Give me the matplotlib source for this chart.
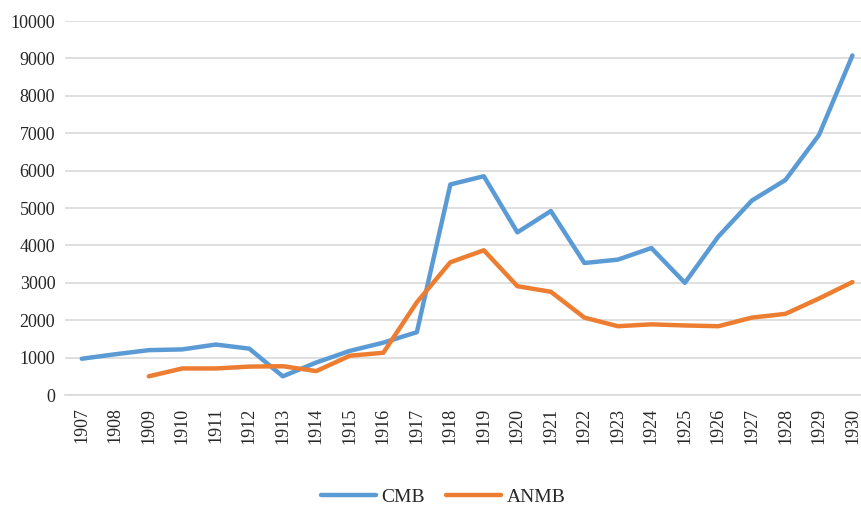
import numpy as np
import matplotlib.pyplot as plt

anos = [str(a) for a in range(1907, 1931)]
cmb = [970, 1090, 1200, 1220, 1350, 1240, 500, 870, 1180, 1400, 1680, 5630,
       5850, 4350, 4920, 3530, 3620, 3930, 3000, 4240, 5200, 5750, 6950, 9080]
# ANMB começa em 1909
anmb = [np.nan, np.nan, 500, 710, 710, 760, 770, 640, 1050, 1130, 2480, 3550,
        3870, 2910, 2760, 2070, 1840, 1890, 1860, 1840, 2070, 2170, 2580, 3020]

plt.rcParams['font.family'] = ['Liberation Serif', 'DejaVu Serif']

fig = plt.figure(figsize=(8.61, 5.08), dpi=100)
ax = fig.add_axes([0.0755, 0.2224, 0.934, 0.7362])

x = np.arange(len(anos))
ax.plot(x, cmb, color='#5B9BD5', lw=3.2, label='CMB', solid_capstyle='round', solid_joinstyle='round')
ax.plot(x, anmb, color='#ED7D31', lw=3.2, label='ANMB', solid_capstyle='round', solid_joinstyle='round')

ax.set_xlim(-0.5, len(anos) - 0.5)
ax.set_ylim(0, 10000)
ax.set_yticks(np.arange(0, 10001, 1000))
ax.set_xticks(x)
ax.set_xticklabels(anos, rotation=90)
ax.tick_params(axis='both', length=0, labelsize=13, colors='#262626')
ax.tick_params(axis='x', pad=9)
ax.tick_params(axis='y', pad=7)
ax.grid(axis='y', color='#D9D9D9', lw=1.2)
ax.set_axisbelow(True)
for s in ['top', 'right', 'left']:
    ax.spines[s].set_visible(False)
ax.spines['bottom'].set_color('#D9D9D9')
ax.spines['bottom'].set_linewidth(1.2)

leg = fig.legend(loc='center', bbox_to_anchor=(0.515, 0.022), ncol=2, frameon=False,
                 fontsize=14, handlelength=2.8, columnspacing=1.1, handletextpad=0.3)
for t in leg.get_texts():
    t.set_color('#262626')

fig.savefig('out.png', dpi=100)
